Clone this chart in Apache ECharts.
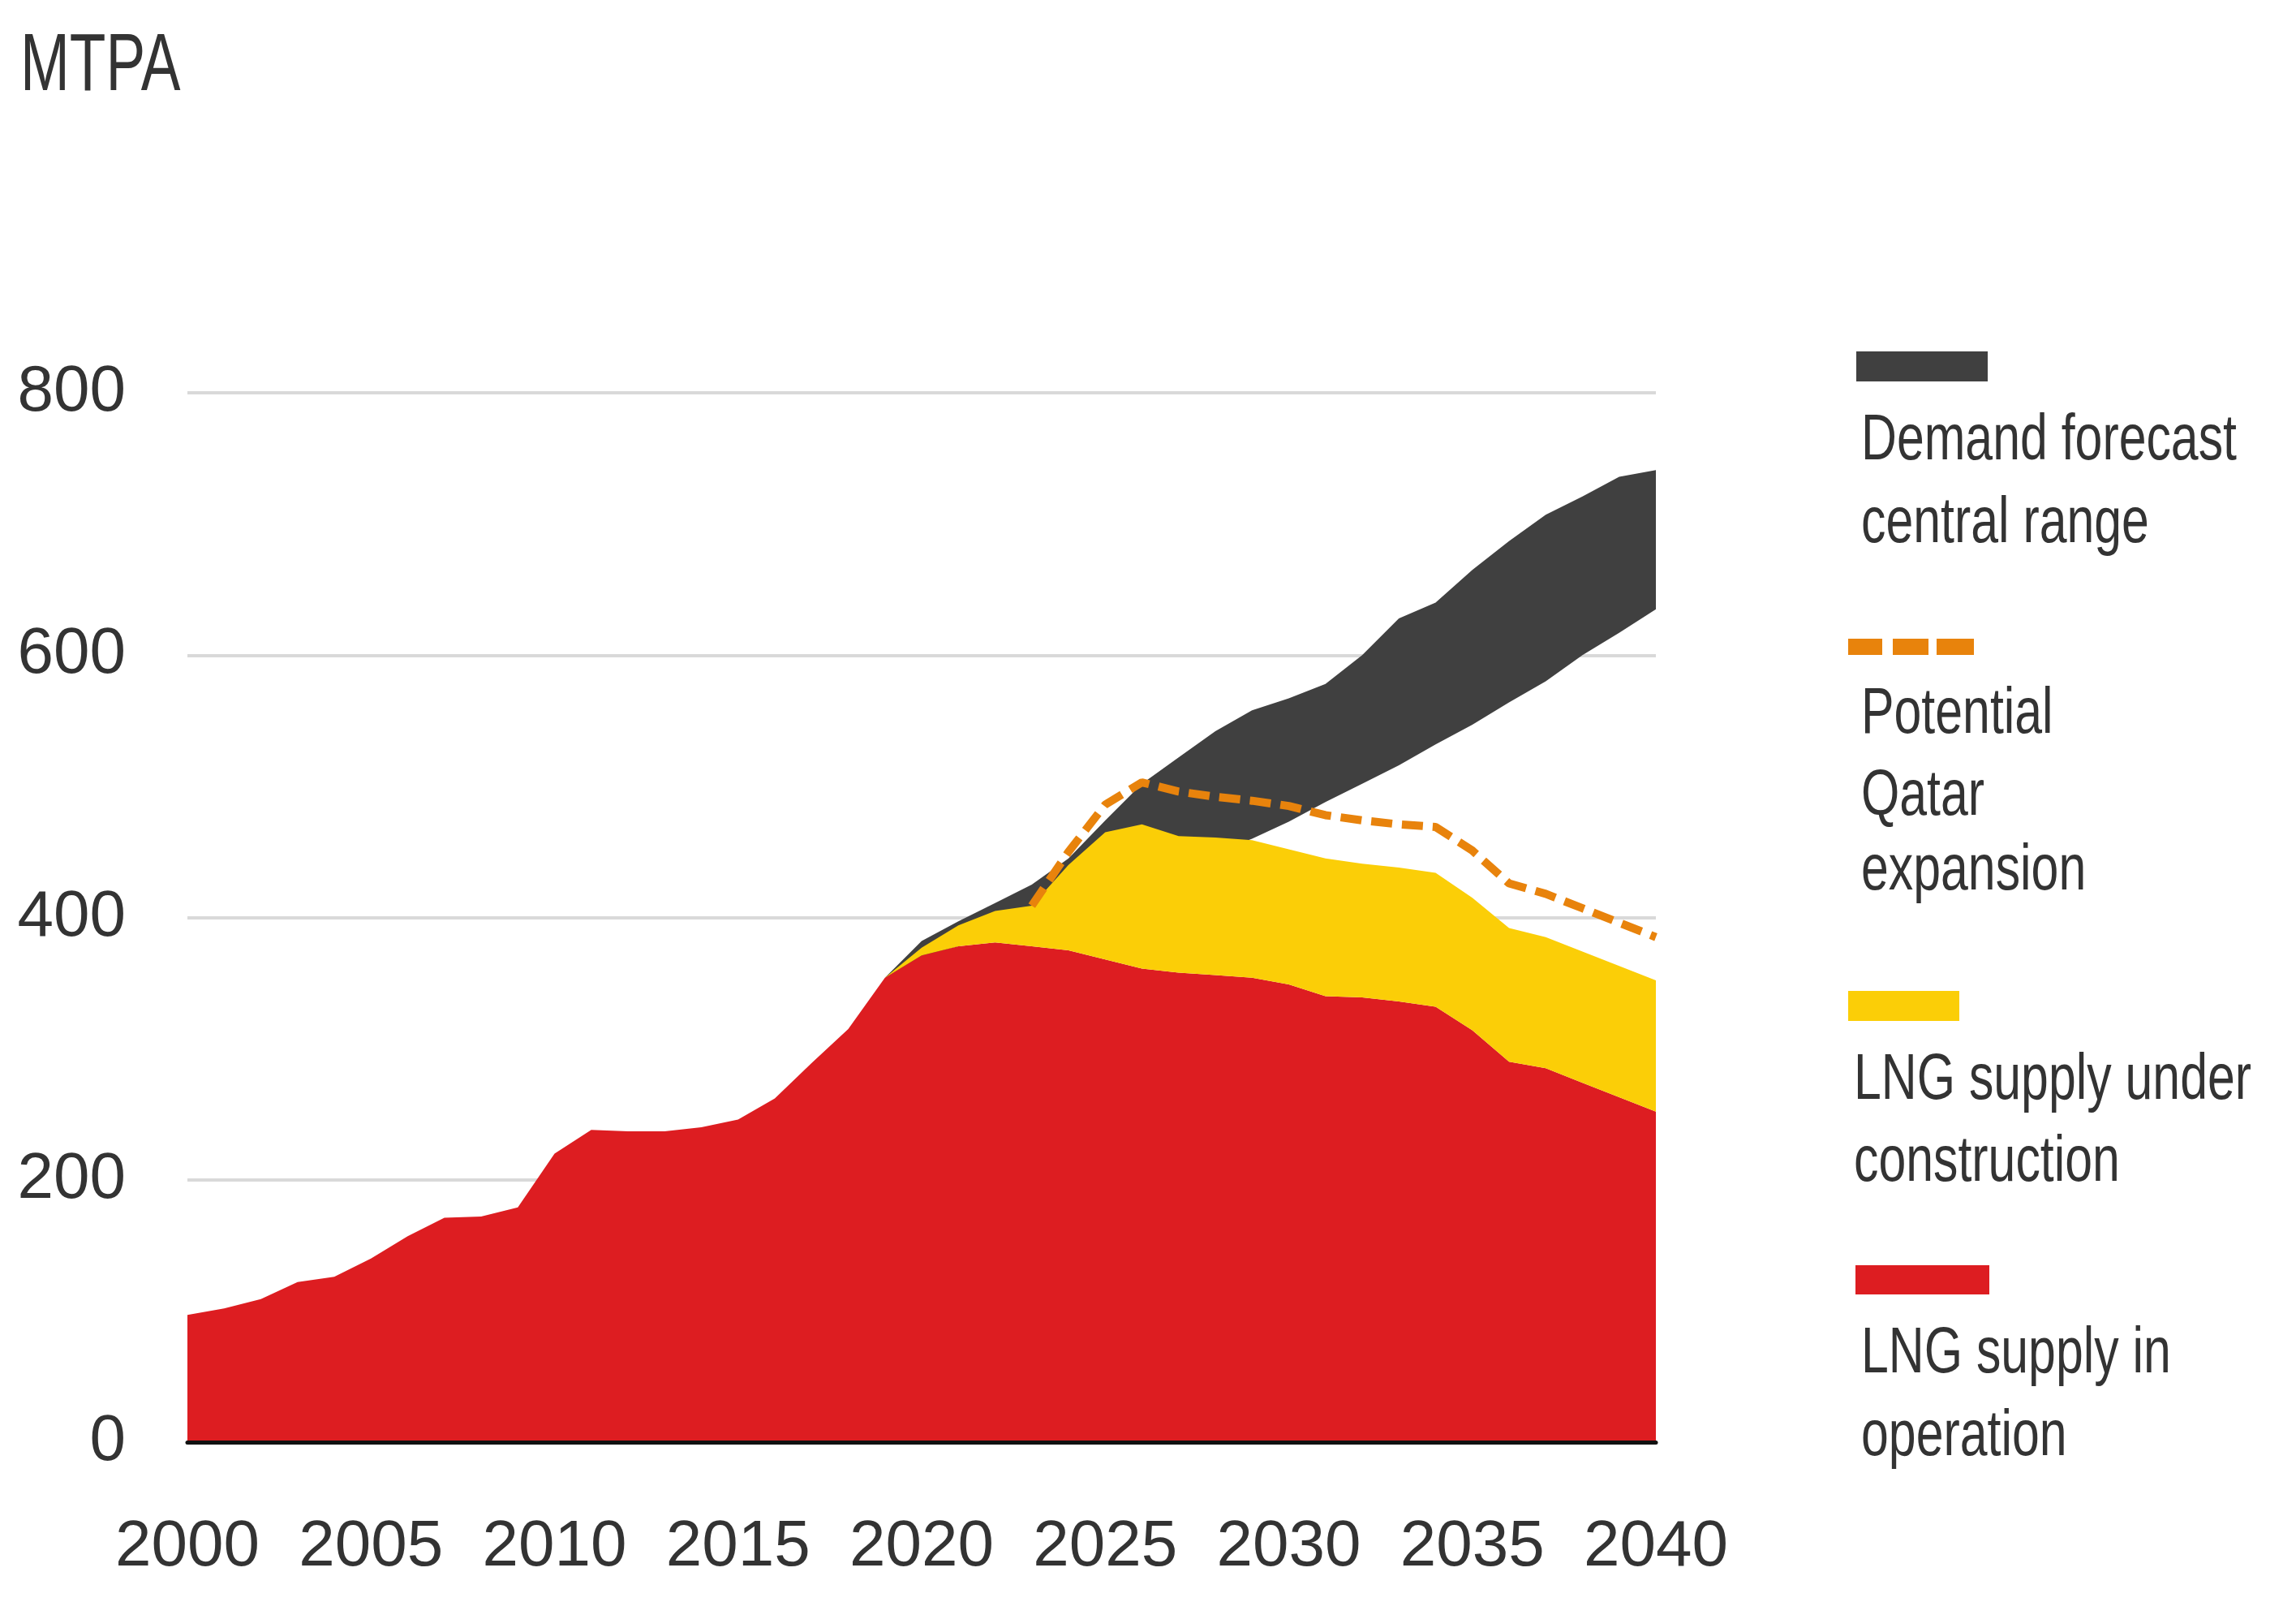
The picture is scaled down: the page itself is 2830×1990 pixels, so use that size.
<!DOCTYPE html>
<html>
<head>
<meta charset="utf-8">
<style>
html,body{margin:0;padding:0;background:#fff;}
#chart{width:2830px;height:1990px;}
</style>
<script src="https://cdn.jsdelivr.net/npm/echarts@6/dist/echarts.min.js"></script>
</head>
<body>
<div id="chart"></div>
<script>
const years = ['2000','2001','2002','2003','2004','2005','2006','2007','2008','2009',
  '2010','2011','2012','2013','2014','2015','2016','2017','2018','2019',
  '2020','2021','2022','2023','2024','2025','2026','2027','2028','2029',
  '2030','2031','2032','2033','2034','2035','2036','2037','2038','2039','2040'];

const yTicks = [0, 200, 400, 600, 800];

// LNG supply in operation (MTPA)
const supplyInOperation = [97,102,109,122,126,140,157,171,172,179,
  220,238,237,237,240,246,262,289,315,354,
  371,378,381,378,375,368,361,358,356,354,
  349,340,339,336,332,314,290,285,274,263,252];

// LNG supply under construction (MTPA, stacked on operation)
const supplyUnderConstruction = [null,null,null,null,null,null,null,null,null,null,
  null,null,null,null,null,null,null,null,null,0,
  6,16,24,31,65,97,110,104,105,105,
  103,105,102,102,102,101,102,100,100,100,100];

// Potential Qatar expansion (total supply incl. Qatar, MTPA)
const qatarExpansion = [null,null,null,null,null,null,null,null,null,null,
  null,null,null,null,null,null,null,null,null,null,
  null,null,null,409,450,486,503,496,492,489,
  485,478,474,471,469,451,426,418,407,396,385];

// Demand forecast central range: low and high edges (MTPA)
const demandLow = [null,null,null,null,null,null,null,null,null,null,
  null,null,null,null,null,null,null,null,null,354,
  370,378,388,398,408,418,428,438,449,460,
  473,488,502,516,532,547,564,580,600,617,635];
const demandHigh = [null,null,null,null,null,null,null,null,null,null,
  null,null,null,null,null,null,null,null,null,354,
  382,397,411,425,445,474,502,522,542,558,
  567,578,600,628,640,665,687,707,721,736,741];

const legendLabels = ['Demand forecast central range', 'Potential Qatar expansion',
  'LNG supply under construction', 'LNG supply in operation'];

const demandBand = demandHigh.map((h, i) => (h == null || demandLow[i] == null) ? null : h - demandLow[i]);

const RED = '#DD1D21', YELLOW = '#FBCE07', DARK = '#404040', ORANGE = '#E8830C', TEXT = '#333333';
const FONT = "'Liberation Sans', Arial, sans-serif";

function condText(x, y, s, size, sx) {
  return { type: 'text', x: x, y: y, scaleX: sx, scaleY: 1,
    style: { text: s, fill: TEXT, font: size + 'px ' + FONT, align: 'left', verticalAlign: 'middle' } };
}
const LF = 80, LSX = 0.76, DY = 5;

const chart = echarts.init(document.getElementById('chart'), null, { renderer: 'canvas' });
chart.setOption({
  animation: false,
  backgroundColor: '#ffffff',
  grid: { left: 231, right: 789, top: 484, bottom: 213, containLabel: false },
  xAxis: {
    type: 'category', data: years, boundaryGap: false, z: 10,
    axisLine: { show: true, lineStyle: { color: '#111', width: 5 } },
    axisTick: { show: false },
    axisLabel: { interval: 4, margin: 90, fontFamily: FONT, fontSize: 80, color: TEXT },
    splitLine: { show: false }
  },
  yAxis: {
    type: 'value', min: 0, max: 800, interval: 200,
    axisLine: { show: false }, axisTick: { show: false },
    axisLabel: { margin: 76, fontFamily: FONT, fontSize: 80, color: TEXT,
      formatter: v => yTicks.indexOf(v) >= 0 ? String(v) : '' },
    splitLine: { show: true, lineStyle: { color: '#D9D9D9', width: 4 } }
  },
  series: [
    { name: 'demandLow', type: 'line', stack: 'demand', data: demandLow, symbol: 'none',
      lineStyle: { width: 0, opacity: 0 }, silent: true },
    { name: legendLabels[0], type: 'line', stack: 'demand', data: demandBand, symbol: 'none',
      lineStyle: { width: 0, opacity: 0 }, areaStyle: { color: DARK, opacity: 1 } },
    { name: legendLabels[3], type: 'line', stack: 'supply', data: supplyInOperation, symbol: 'none',
      lineStyle: { width: 0, opacity: 0 }, areaStyle: { color: RED, opacity: 1 } },
    { name: legendLabels[2], type: 'line', stack: 'supply', data: supplyUnderConstruction, symbol: 'none',
      lineStyle: { width: 0, opacity: 0 }, areaStyle: { color: YELLOW, opacity: 1 } },
    { name: legendLabels[1], type: 'line', data: qatarExpansion, symbol: 'none',
      lineStyle: { color: ORANGE, width: 10, type: [26, 12], cap: 'butt' } }
  ],
  graphic: [
    condText(25, 83, 'MTPA', 100, 0.73),
    { type: 'rect', x: 2288, y: 433, shape: { width: 162, height: 37 }, style: { fill: DARK } },
    condText(2294, 539 + DY, 'Demand forecast', LF, LSX),
    condText(2294, 641 + DY, 'central range', LF, LSX),
    { type: 'rect', x: 2278, y: 787, shape: { width: 42, height: 20 }, style: { fill: ORANGE } },
    { type: 'rect', x: 2333, y: 787, shape: { width: 44, height: 20 }, style: { fill: ORANGE } },
    { type: 'rect', x: 2387, y: 787, shape: { width: 46, height: 20 }, style: { fill: ORANGE } },
    condText(2294, 876 + DY, 'Potential', LF, LSX),
    condText(2294, 977 + DY, 'Qatar', LF, LSX),
    condText(2294, 1069 + DY, 'expansion', LF, LSX),
    { type: 'rect', x: 2278, y: 1221, shape: { width: 137, height: 37 }, style: { fill: YELLOW } },
    condText(2285, 1327 + DY, 'LNG supply under', LF, LSX),
    condText(2285, 1428 + DY, 'construction', LF, LSX),
    { type: 'rect', x: 2287, y: 1559, shape: { width: 165, height: 36 }, style: { fill: RED } },
    condText(2294, 1664 + DY, 'LNG supply in', LF, LSX),
    condText(2294, 1766 + DY, 'operation', LF, LSX)
  ]
});
</script>
</body>
</html>
